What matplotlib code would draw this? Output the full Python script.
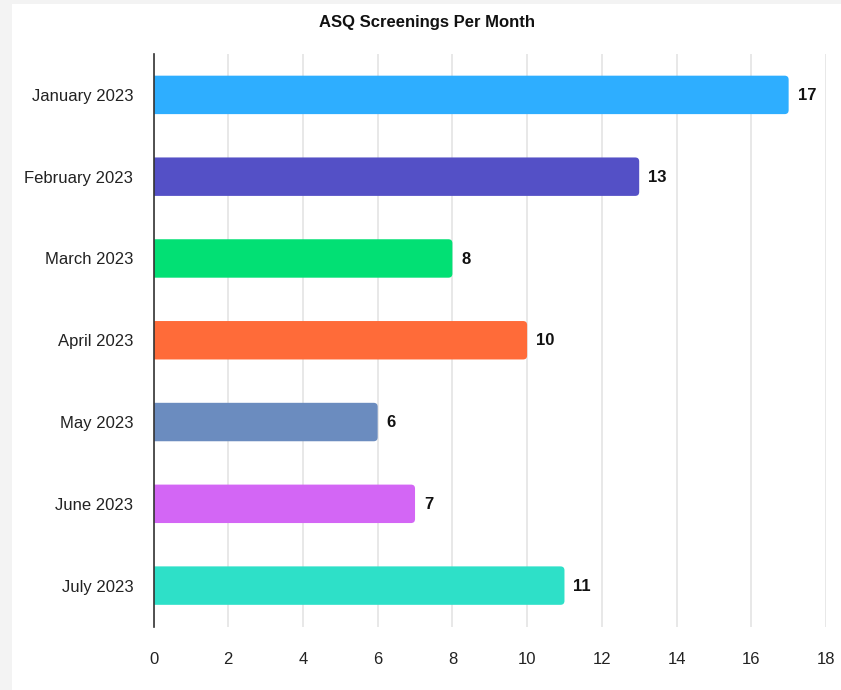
import matplotlib
matplotlib.use("Agg")
import matplotlib.pyplot as plt
from matplotlib.patches import FancyBboxPatch, Rectangle

months = ["January 2023", "February 2023", "March 2023", "April 2023",
          "May 2023", "June 2023", "July 2023"]
screenings = [17, 13, 8, 10, 6, 7, 11]
colors = ["#2eaeff", "#5450c6", "#02e074", "#ff6b39", "#6b8cbf", "#d366f5", "#2ee0c8"]
xticks = [0, 2, 4, 6, 8, 10, 12, 14, 16, 18]

plt.rcParams['font.family'] = ['Liberation Sans', 'DejaVu Sans']

W, H = 841, 690
fig = plt.figure(figsize=(W / 100, H / 100), dpi=100)
fig.patch.set_facecolor("#f3f3f3")
fig.patches.append(Rectangle((12 / W, 0), 1 - 12 / W, 1 - 4 / H,
                             transform=fig.transFigure, facecolor="white",
                             edgecolor="none", zorder=-10))

ax = fig.add_axes([153.5 / W, 1 - 626.5 / H, (826 - 153.5) / W, (626.5 - 54) / H])
ax.set_facecolor("none")
ax.set_zorder(1)

ypos = list(range(len(months)))
bars = ax.barh(ypos, screenings, height=0.47, color=colors)
ax.set_xlim(0, 18)
ax.set_ylim(len(months) - 0.5, -0.5)

# rounded bar ends
xpx = (826 - 153.5) / 18.0
ypx = (626.5 - 54) / 7.0
r = 4.0 / xpx
for b, c in zip(bars, colors):
    b.set_visible(False)
    x0, y0 = b.get_x(), b.get_y()
    w, h = b.get_width(), b.get_height()
    p = FancyBboxPatch((x0 - 1.0 + r, y0 + r * xpx / ypx), w + 1.0 - 2 * r,
                       h - 2 * r * xpx / ypx,
                       boxstyle=f"round,pad={r},rounding_size={r}",
                       mutation_aspect=xpx / ypx,
                       facecolor=c, edgecolor="none", zorder=3)
    ax.add_patch(p)

for y, v in zip(ypos, screenings):
    ax.annotate(str(v), (v, y), xytext=(6.5, -0.5), textcoords="offset points",
                va="center", ha="left", fontsize=12, fontweight="bold",
                color="#111111")

ax.set_yticks(ypos)
ax.set_yticklabels(months)
ax.set_xticks(xticks)
ax.tick_params(axis="both", length=0, labelsize=12, colors="#222222")
ax.tick_params(axis="x", pad=18.5)
ax.tick_params(axis="y", pad=14.5)
ax.grid(axis="x", color="#e4e4e4", linewidth=1.2, zorder=0)
ax.set_axisbelow(True)
for s in ["top", "right", "bottom"]:
    ax.spines[s].set_visible(False)
ax.spines["left"].set_color("#333333")
ax.spines["left"].set_linewidth(1.2)
ax.spines["left"].set_zorder(5)

fig.text(427 / W, 1 - 22 / H, "ASQ Screenings Per Month", ha="center", va="center",
         fontsize=12, fontweight="bold", color="#111111")

fig.savefig("out.png", dpi=100, facecolor=fig.get_facecolor())
